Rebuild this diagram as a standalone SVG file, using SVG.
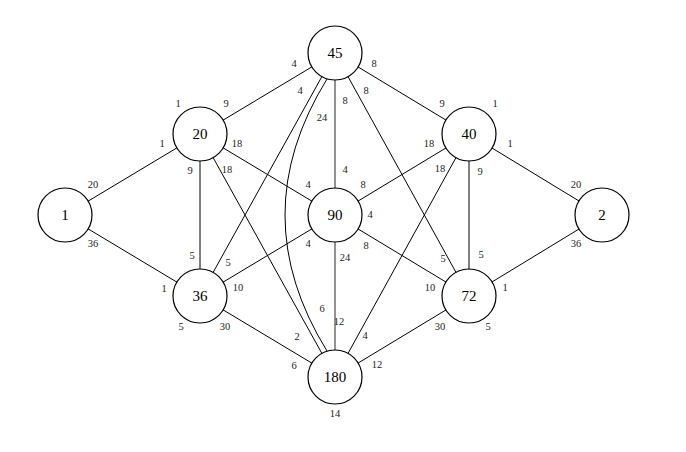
<svg xmlns="http://www.w3.org/2000/svg" width="686" height="452" viewBox="0 0 686 452">
<style>
circle{fill:#fff;stroke:#000;stroke-width:1.2}
.n{font-family:"Liberation Serif",serif;font-size:15px;text-anchor:middle;dominant-baseline:central}
.l{font-family:"Liberation Serif",serif;font-size:10.5px;text-anchor:middle;dominant-baseline:central;fill:#222}
#edges line,#edges path{stroke:#000;stroke-width:1;fill:none}
#edges .g{stroke:#777;stroke-width:1.6}
</style>
<rect width="686" height="452" fill="#fff"/>
<g id="edges">
<line x1="65" y1="215" x2="200" y2="134"/>
<line x1="65" y1="215" x2="200" y2="296"/>
<line x1="602" y1="215" x2="469" y2="134"/>
<line x1="602" y1="215" x2="469" y2="296"/>
<line x1="200" y1="134" x2="335" y2="53"/>
<line x1="200" y1="134" x2="200" y2="296"/>
<line x1="200" y1="134" x2="335" y2="215"/>
<line x1="200" y1="134" x2="335" y2="377"/>
<line x1="335" y1="53" x2="469" y2="134"/>
<line x1="335" y1="53" x2="200" y2="296"/>
<line class="g" x1="335" y1="53" x2="335" y2="377"/>
<path d="M327,79 Q243,215 327,351"/>
<line x1="335" y1="53" x2="469" y2="296"/>
<line x1="469" y1="134" x2="335" y2="215"/>
<line x1="469" y1="134" x2="469" y2="296"/>
<line x1="469" y1="134" x2="335" y2="377"/>
<line x1="335" y1="215" x2="200" y2="296"/>
<line x1="335" y1="215" x2="469" y2="296"/>
<line x1="200" y1="296" x2="335" y2="377"/>
<line x1="469" y1="296" x2="335" y2="377"/>
</g>
<g id="n45"><circle cx="335" cy="53" r="27"/><text class="n" x="335" y="53">45</text></g>
<g id="n20"><circle cx="200" cy="134" r="27"/><text class="n" x="200" y="134">20</text></g>
<g id="n40"><circle cx="469" cy="134" r="27"/><text class="n" x="469" y="134">40</text></g>
<g id="n1"><circle cx="65" cy="215" r="27"/><text class="n" x="65" y="215">1</text></g>
<g id="n90"><circle cx="335" cy="215" r="27"/><text class="n" x="335" y="215">90</text></g>
<g id="n2"><circle cx="602" cy="215" r="27"/><text class="n" x="602" y="215">2</text></g>
<g id="n36"><circle cx="200" cy="296" r="27"/><text class="n" x="200" y="296">36</text></g>
<g id="n72"><circle cx="469" cy="296" r="27"/><text class="n" x="469" y="296">72</text></g>
<g id="n180"><circle cx="335" cy="377" r="27"/><text class="n" x="335" y="377">180</text></g>
<g id="labels">
<text class="l" x="294" y="63">4</text><text class="l" x="374" y="63">8</text>
<text class="l" x="300" y="90">4</text><text class="l" x="322" y="117">24</text>
<text class="l" x="345" y="100">8</text><text class="l" x="366" y="90">8</text>
<text class="l" x="178" y="103">1</text><text class="l" x="226" y="103">9</text>
<text class="l" x="162" y="143">1</text><text class="l" x="237" y="143">18</text>
<text class="l" x="190" y="170">9</text><text class="l" x="227" y="169">18</text>
<text class="l" x="442" y="103">9</text><text class="l" x="495" y="103">1</text>
<text class="l" x="429" y="143">18</text><text class="l" x="510" y="143">1</text>
<text class="l" x="440" y="168">18</text><text class="l" x="480" y="171">9</text>
<text class="l" x="345" y="169">4</text><text class="l" x="308" y="184">4</text>
<text class="l" x="363" y="184">8</text><text class="l" x="370" y="214">4</text>
<text class="l" x="308" y="243">4</text><text class="l" x="366" y="245">8</text>
<text class="l" x="345" y="257">24</text>
<text class="l" x="93" y="184">20</text><text class="l" x="93" y="243">36</text>
<text class="l" x="576" y="184">20</text><text class="l" x="576" y="243">36</text>
<text class="l" x="192" y="255">5</text><text class="l" x="228" y="262">5</text>
<text class="l" x="164" y="288">1</text><text class="l" x="238" y="287">10</text>
<text class="l" x="181" y="326">5</text><text class="l" x="225" y="326">30</text>
<text class="l" x="443" y="258">5</text><text class="l" x="481" y="254">5</text>
<text class="l" x="430" y="287">10</text><text class="l" x="505" y="287">1</text>
<text class="l" x="440" y="326">30</text><text class="l" x="488" y="326">5</text>
<text class="l" x="322" y="308">6</text><text class="l" x="339" y="321">12</text>
<text class="l" x="297" y="336">2</text><text class="l" x="365" y="335">4</text>
<text class="l" x="294" y="365">6</text><text class="l" x="377" y="364">12</text>
<text class="l" x="335" y="413">14</text>
</g>
</svg>
